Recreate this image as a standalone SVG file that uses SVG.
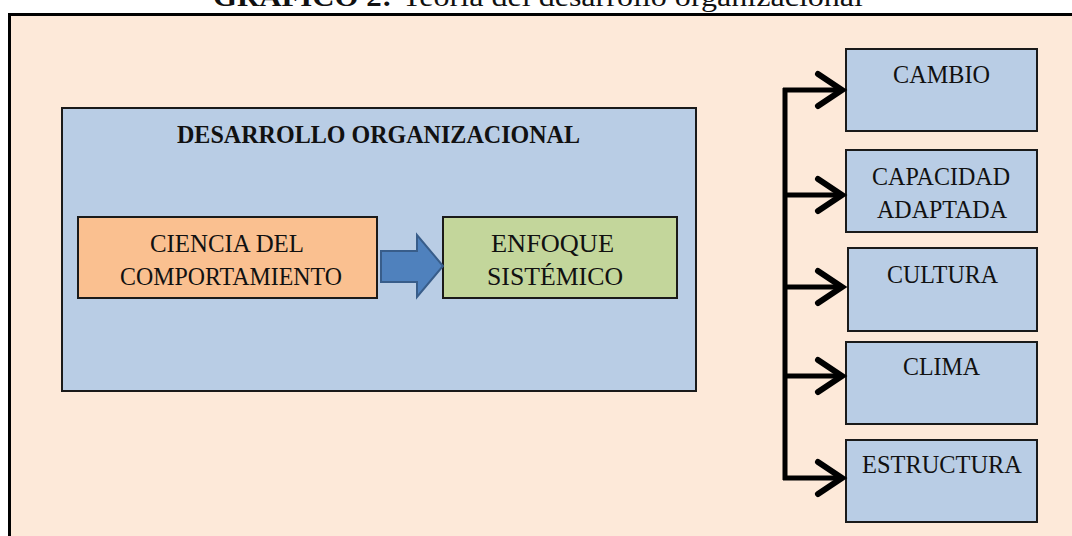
<svg xmlns="http://www.w3.org/2000/svg" width="1072" height="536" viewBox="0 0 1072 536">
<style>
.t{font-family:"Liberation Serif","Times New Roman",serif;fill:#111;}
.b{font-weight:bold;}
.box{stroke:#1a1a1a;stroke-width:2;}
.blue{fill:#B9CDE5;}
.con{fill:none;stroke:#000;stroke-width:5;}
.chev{fill:none;stroke:#000;stroke-width:6;stroke-linecap:round;stroke-linejoin:miter;}
</style>
<rect width="1072" height="536" fill="#fff"/>
<g id="title">
<text class="t b" x="213" y="6" font-size="28" textLength="179" lengthAdjust="spacingAndGlyphs">GRÁFICO 2:</text>
<text class="t" x="402" y="6" font-size="28" textLength="461" lengthAdjust="spacingAndGlyphs">Teoría del desarrollo organizacional</text>
</g>
<g id="frame">
<rect x="9.5" y="14.5" width="1100" height="600" fill="#FDE9D9" stroke="#000" stroke-width="3"/>
</g>
<g id="desarrollo">
<rect class="box blue" x="62" y="108" width="634" height="283"/>
<text class="t b" x="177" y="143" font-size="25" textLength="403" lengthAdjust="spacingAndGlyphs">DESARROLLO ORGANIZACIONAL</text>
</g>
<g id="ciencia">
<rect class="box" x="78" y="217" width="299" height="81" fill="#FAC090"/>
<text class="t" x="150" y="252" font-size="26" textLength="154" lengthAdjust="spacingAndGlyphs">CIENCIA DEL</text>
<text class="t" x="120" y="285" font-size="26" textLength="222" lengthAdjust="spacingAndGlyphs">COMPORTAMIENTO</text>
</g>
<g id="enfoque">
<rect class="box" x="443" y="217" width="234" height="81" fill="#C3D69B"/>
<text class="t" x="491" y="252" font-size="26" textLength="123" lengthAdjust="spacingAndGlyphs">ENFOQUE</text>
<text class="t" x="487" y="285" font-size="26" textLength="136" lengthAdjust="spacingAndGlyphs">SISTÉMICO</text>
</g>
<g id="cambio">
<rect class="box blue" x="846" y="49" width="191" height="82"/>
<text class="t" x="893" y="83" font-size="26" textLength="97" lengthAdjust="spacingAndGlyphs">CAMBIO</text>
</g>
<g id="capacidad">
<rect class="box blue" x="846" y="150" width="191" height="82"/>
<text class="t" x="872" y="185" font-size="26" textLength="138" lengthAdjust="spacingAndGlyphs">CAPACIDAD</text>
<text class="t" x="877" y="218" font-size="26" textLength="130" lengthAdjust="spacingAndGlyphs">ADAPTADA</text>
</g>
<g id="cultura">
<rect class="box blue" x="848" y="248" width="189" height="83"/>
<text class="t" x="887" y="283" font-size="26" textLength="111" lengthAdjust="spacingAndGlyphs">CULTURA</text>
</g>
<g id="clima">
<rect class="box blue" x="846" y="342" width="191" height="82"/>
<text class="t" x="903" y="375" font-size="26" textLength="77" lengthAdjust="spacingAndGlyphs">CLIMA</text>
</g>
<g id="estructura">
<rect class="box blue" x="846" y="440" width="191" height="82"/>
<text class="t" x="862" y="473" font-size="26" textLength="160" lengthAdjust="spacingAndGlyphs">ESTRUCTURA</text>
</g>
<g id="connectors">
<path d="M381,251 H417 V235 L443,266 L417,297 V282 H381 Z" fill="#4F81BD" stroke="#385D8A" stroke-width="2" stroke-linejoin="miter"/>
<path class="con" d="M785,88 V480"/>
<path class="con" d="M783,90 H840 M785,195 H840 M785,287 H840 M785,376 H840 M783,478 H840"/>
<polyline class="chev" points="818,74 842,90 818,106"/>
<polyline class="chev" points="818,179 842,195 818,211"/>
<polyline class="chev" points="818,271 842,287 818,303"/>
<polyline class="chev" points="818,360 842,376 818,392"/>
<polyline class="chev" points="818,462 842,478 818,494"/>
</g>
</svg>
